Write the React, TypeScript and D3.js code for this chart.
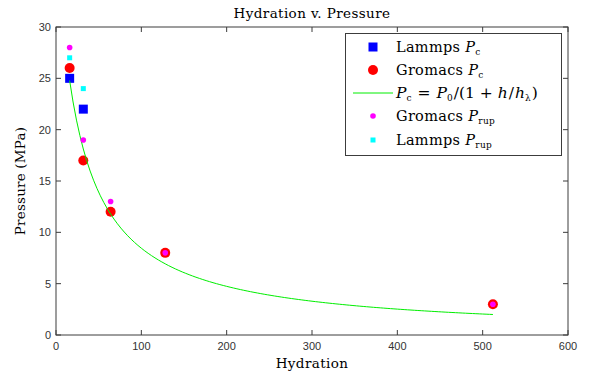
import React from "react";
import * as d3 from "d3";

// Hydration levels and measured pressures (MPa)
const lammpsPcH = [16, 32];
const lammpsPc = [25, 22];
const gromacsPcH = [16, 32, 64, 128, 512];
const gromacsPc = [26, 17, 12, 8, 3];
const gromacsPrupH = [16, 32, 64, 128, 512];
const gromacsPrup = [28, 19, 13, 8, 3];
const lammpsPrupH = [16, 32];
const lammpsPrup = [27, 24];

// Fit parameters for P_c = P_0 / (1 + h / h_lambda)
const fitP0 = 39.2;
const fitHLambda = 27.5;
const fitRange = [16, 512];

const xTicks = [0, 100, 200, 300, 400, 500, 600];
const yTicks = [0, 5, 10, 15, 20, 25, 30];

const W = 592;
const H = 373;
const margin = { left: 56, right: 24, top: 27, bottom: 38 };

const serif = "'DejaVu Serif', 'Liberation Serif', serif";
const sans = "'Liberation Sans', Arial, sans-serif";

export default function App() {
  const x = d3.scaleLinear().domain([0, 600]).range([margin.left, W - margin.right]);
  const y = d3.scaleLinear().domain([0, 30]).range([H - margin.bottom, margin.top]);

  const fitH: number[] = [];
  for (let h = fitRange[0]; h <= fitRange[1]; h += 4) fitH.push(h);
  const fitLine = d3
    .line<number>()
    .x((h) => x(h))
    .y((h) => y(fitP0 / (1 + h / fitHLambda)));

  const x0 = x(0), x1 = x(600), y0 = y(0), y1 = y(30);
  const axisColor = "#3c3c3c";
  const tickLen = 5;

  const legend = { x: 345.5, y: 33.5, w: 216, h: 122 };
  const rowY = [47, 70, 93, 116, 140];
  const mx = 373;
  const tx = 396;

  const sub = (t: string) => (
    <tspan baselineShift="-30%" fontSize={9}>{t}</tspan>
  );

  return (
    <svg width={W} height={H} style={{ position: "absolute", left: 0, top: 0 }}>
      <rect width={W} height={H} fill="#fff" />
      {/* plot frame */}
      <rect x={x0} y={y1} width={x1 - x0} height={y0 - y1} fill="none" stroke={axisColor} strokeWidth={1} />
      {xTicks.map((t) => (
        <g key={"x" + t}>
          <line x1={x(t)} x2={x(t)} y1={y0} y2={y0 - tickLen} stroke={axisColor} />
          <line x1={x(t)} x2={x(t)} y1={y1} y2={y1 + tickLen} stroke={axisColor} />
          <text x={x(t)} y={y0 + 15} textAnchor="middle" fontFamily={sans} fontSize={11} fill="#333">{t}</text>
        </g>
      ))}
      {yTicks.map((t) => (
        <g key={"y" + t}>
          <line x1={x0} x2={x0 + tickLen} y1={y(t)} y2={y(t)} stroke={axisColor} />
          <line x1={x1} x2={x1 - tickLen} y1={y(t)} y2={y(t)} stroke={axisColor} />
          <text x={x0 - 5} y={y(t) + 4} textAnchor="end" fontFamily={sans} fontSize={11} fill="#333">{t}</text>
        </g>
      ))}

      {/* series */}
      {lammpsPcH.map((h, i) => (
        <rect key={"lpc" + i} x={x(h) - 4.5} y={y(lammpsPc[i]) - 4.5} width={9} height={9} fill="#0000ff" />
      ))}
      {gromacsPcH.map((h, i) => (
        <circle key={"gpc" + i} cx={x(h)} cy={y(gromacsPc[i])} r={5} fill="#ff0000" />
      ))}
      <path d={fitLine(fitH) ?? ""} fill="none" stroke="#00ee00" strokeWidth={1} />
      {gromacsPrupH.map((h, i) => (
        <circle key={"gpr" + i} cx={x(h)} cy={y(gromacsPrup[i])} r={2.8} fill="#ff00ff" />
      ))}
      {lammpsPrupH.map((h, i) => (
        <rect key={"lpr" + i} x={x(h) - 2.5} y={y(lammpsPrup[i]) - 2.5} width={5} height={5} fill="#00ffff" />
      ))}

      {/* titles */}
      <text x={(x0 + x1) / 2} y={18} textAnchor="middle" fontFamily={serif} fontSize={13.5} letterSpacing={0.4}>Hydration v. Pressure</text>
      <text x={(x0 + x1) / 2} y={368} textAnchor="middle" fontFamily={serif} fontSize={13.5} letterSpacing={0.4}>Hydration</text>
      <text transform={`translate(25,${(y0 + y1) / 2}) rotate(-90)`} textAnchor="middle" fontFamily={serif} fontSize={13.5} letterSpacing={0.2}>Pressure (MPa)</text>

      {/* legend */}
      <rect x={legend.x} y={legend.y} width={legend.w} height={legend.h} fill="#fff" stroke={axisColor} />
      <rect x={mx - 4.5} y={rowY[0] - 4.5} width={9} height={9} fill="#0000ff" />
      <circle cx={mx} cy={rowY[1]} r={5} fill="#ff0000" />
      <line x1={353} x2={393} y1={rowY[2]} y2={rowY[2]} stroke="#00ee00" />
      <circle cx={mx} cy={rowY[3]} r={2.8} fill="#ff00ff" />
      <rect x={mx - 2.5} y={rowY[4] - 2.5} width={5} height={5} fill="#00ffff" />
      <g fontFamily={serif} fontSize={14.5}>
        <text x={tx} y={rowY[0] + 5} letterSpacing={0.3}>Lammps <tspan fontStyle="italic">P</tspan>{sub("c")}</text>
        <text x={tx} y={rowY[1] + 5} letterSpacing={0.3}>Gromacs <tspan fontStyle="italic">P</tspan>{sub("c")}</text>
        <text x={tx} y={rowY[2] + 5} fontSize={15.5}>
          <tspan fontStyle="italic">P</tspan>{sub("c")}<tspan dx={6}>=</tspan>
          <tspan dx={6} fontStyle="italic">P</tspan><tspan baselineShift="-30%" fontSize={9}>0</tspan>
          <tspan dx={1}>/(1</tspan><tspan dx={5}>+</tspan><tspan dx={5} fontStyle="italic">h</tspan><tspan dx={1}>/</tspan>
          <tspan dx={1} fontStyle="italic">h</tspan><tspan baselineShift="-30%" fontSize={9}>λ</tspan><tspan dx={1}>)</tspan>
        </text>
        <text x={tx} y={rowY[3] + 5} letterSpacing={0.3}>Gromacs <tspan fontStyle="italic">P</tspan>{sub("rup")}</text>
        <text x={tx} y={rowY[4] + 5} letterSpacing={0.3}>Lammps <tspan fontStyle="italic">P</tspan>{sub("rup")}</text>
      </g>
    </svg>
  );
}
